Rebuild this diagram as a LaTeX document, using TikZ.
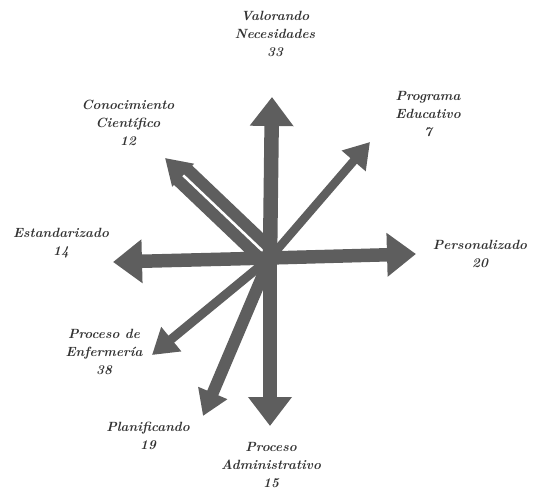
\documentclass[tikz,border=0pt]{standalone}
\usepackage{amsfonts, amssymb, amsmath}
\usetikzlibrary{arrows.meta}
\definecolor{flechagris}{HTML}{5E5E5E}

\begin{document}
\begin{tikzpicture}[x=0.02cm, y=-0.02cm,
    etiqueta/.style={align=center, font=\fontsize{7.6}{10.4}\selectfont\bfseries\itshape, text=black!80},
    flechagrande/.style={draw=flechagris, line width=0.29cm, -{Triangle[length=0.58cm, width=0.84cm]}},
    flechachica/.style={draw=flechagris, line width=0.18cm, -{Triangle[length=0.5cm, width=0.6cm]}}]
  \useasboundingbox (0, 0) rectangle (534, 492);
  \coordinate (c) at (270, 258);
  % puntas de las flechas
  \coordinate (tValorando) at (272, 97);
  \coordinate (tAdmin) at (270, 426);
  \coordinate (tPersonal) at (416, 254);
  \coordinate (tEstandar) at (113, 262);
  \coordinate (tPrograma) at (370, 142);
  \coordinate (tConoc) at (165, 158);
  \coordinate (tEnferm) at (152, 355);
  \coordinate (tPlanif) at (203, 416);
  % flechas diagonales
  \draw[flechachica, line width=0.17cm] (c) -- (tPrograma);
  \draw[flechachica, line width=0.24cm, double=white, double distance=0.05cm] (c) -- (tConoc);
  \draw[flechachica] (c) -- (tEnferm);
  \draw[flechachica, line width=0.24cm] (c) -- (tPlanif);
  % ejes
  \draw[flechagrande] (c) -- (tValorando);
  \draw[flechagrande] (c) -- (tAdmin);
  \draw[flechagrande, line width=0.27cm] (c) -- (tPersonal);
  \draw[flechagrande, line width=0.27cm] (c) -- (tEstandar);
  % etiquetas
  \node[etiqueta] (valorando) at (275, 34) {Valorando\\Necesidades\\33};
  \node[etiqueta] (programa) at (428, 114) {Programa\\Educativo\\7};
  \node[etiqueta] (conoc) at (128, 123) {Conocimiento\\Científico\\12};
  \node[etiqueta] (estandar) at (61, 243) {Estandarizado\\14};
  \node[etiqueta] (personal) at (480, 254) {Personalizado\\20};
  \node[etiqueta] (enferm) at (104, 352) {Proceso de\\Enfermería\\38};
  \node[etiqueta] (planif) at (148, 436) {Planificando\\19};
  \node[etiqueta] (admin) at (271, 465) {Proceso\\Administrativo\\15};
\end{tikzpicture}
\end{document}
